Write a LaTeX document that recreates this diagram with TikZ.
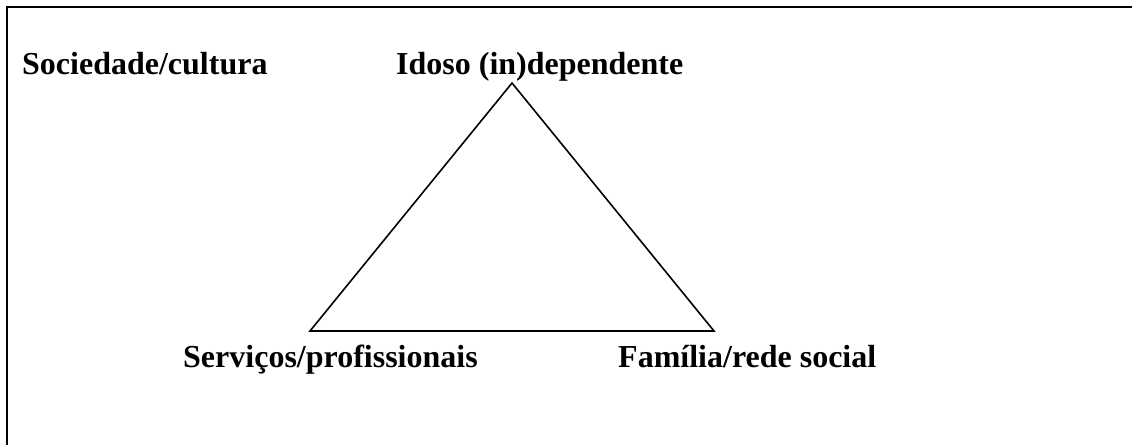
\documentclass[tikz,border=0pt]{standalone}
\usepackage{fontspec}
\setmainfont{Liberation Serif}
\usetikzlibrary{positioning}

\begin{document}
\begin{tikzpicture}[x=1pt,y=-1pt,
  label/.style={anchor=base west,inner sep=0pt,font=\fontsize{32}{38}\selectfont\bfseries},
  frame/.style={line width=2pt},
  edge/.style={line width=1.6pt,line join=miter}]
\useasboundingbox (0,0) rectangle (1132,445);
%\node(box) at (0,0) {};
\draw[frame] (7,445) -- (7,7) -- (1132,7);

\node(soc) [label] at (22,74) {Sociedade/cultura};
\node(idoso) [label] at (396,74) {Idoso (in)dependente};
\node(serv) [label] at (183,367) {Serviços/profissionais};
\node(fam) [label] at (618,367) {Família/rede social};

\coordinate(top) at (512,83);
\coordinate(left) at (310,331);
\coordinate(right) at (714,331);

\draw[edge] (top) -- (left) -- (right) -- cycle;
\end{tikzpicture}
\end{document}
